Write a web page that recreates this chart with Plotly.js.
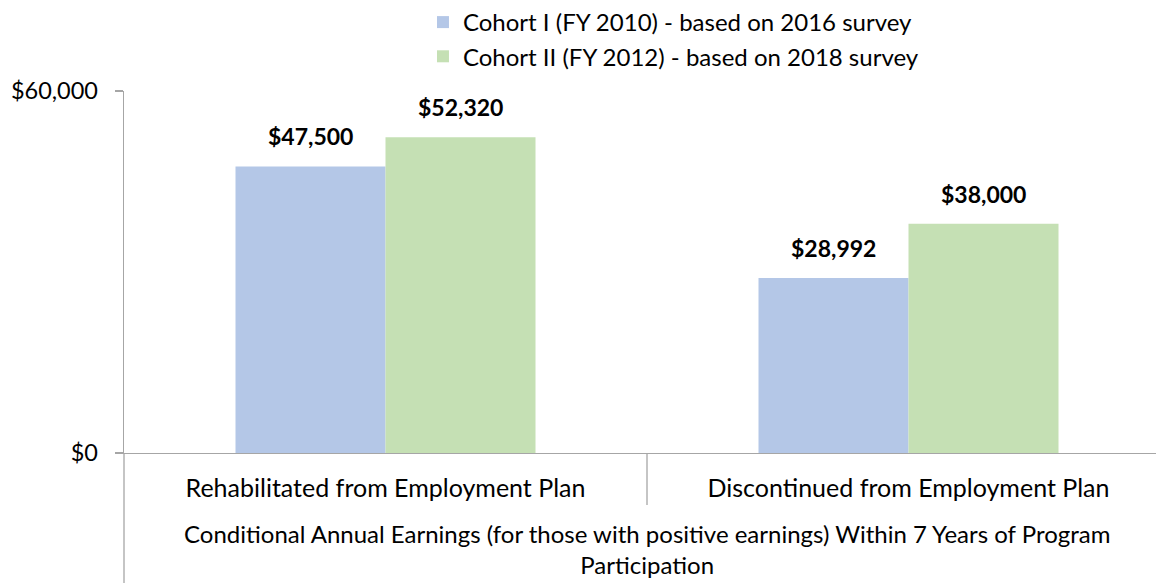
<!DOCTYPE html>
<html>
<head>
<meta charset="utf-8">
<script src="https://cdn.plot.ly/plotly-3.0.1.min.js"></script>
<style>html,body{margin:0;padding:0;background:#fff}#chart{width:1156px;height:583px}</style>
</head>
<body>
<div id="chart"></div>
<script>
const categories = ["Rehabilitated from Employment Plan", "Discontinued from Employment Plan"];
const seriesNames = ["Cohort I (FY 2010) - based on 2016 survey", "Cohort II (FY 2012) - based on 2018 survey"];
const cohort1 = [47500, 28992];
const cohort2 = [52320, 38000];
const groupTitleLines = ["Conditional Annual Earnings (for those with positive earnings) Within 7 Years of Program", "Participation"];
const yTicks = [0, 60000];
const yTickLabels = ["$0", "$60,000"];

const FONT = "Lato, 'Open Sans', sans-serif";
const colors = ["#B4C7E7", "#C5E0B4"];
const bargap = 0.4264;
const barW = (1 - bargap) / 2;

const fmt = v => "$" + v.toLocaleString("en-US");
const allSeries = [cohort1, cohort2];

const traces = allSeries.map((vals, j) => ({
  type: "bar",
  name: seriesNames[j],
  x: categories,
  y: vals,
  marker: {color: colors[j], line: {width: 0}},
  hoverinfo: "skip"
}));

const annotations = [];
allSeries.forEach((vals, j) => {
  vals.forEach((v, i) => {
    annotations.push({
      x: i + (j - 0.5) * barW, xref: "x",
      y: v, yref: "y",
      text: "<b>" + fmt(v) + "</b>",
      showarrow: false, yanchor: "bottom", yshift: 14,
      font: {family: FONT, size: 23, color: "#000"}
    });
  });
});
annotations.push({
  x: 0.5, xref: "x", y: -(581 - 453) / 362, yref: "paper", yanchor: "bottom",
  text: groupTitleLines.join("<br>"), showarrow: false, align: "center",
  font: {family: FONT, size: 24, color: "#000"}
});

const shapes = [
  {type: "line", xref: "paper", yref: "paper", x0: 0, x1: 0, y0: 0, y1: -130/362, line: {color: "#A6A6A6", width: 1.3}},
  {type: "line", xref: "x", yref: "paper", x0: 0.5, x1: 0.5, y0: 0, y1: -52/362, line: {color: "#A6A6A6", width: 1.3}}
];

const layout = {
  width: 1156, height: 583,
  margin: {l: 124, r: 0, t: 91, b: 130, autoexpand: false},
  paper_bgcolor: "#fff", plot_bgcolor: "#fff",
  barmode: "group", bargap: bargap, bargroupgap: 0,
  font: {family: FONT, color: "#000"},
  showlegend: true,
  legend: {x: 0.2897, y: 1 + 91/362, xanchor: "left", yanchor: "top", orientation: "v",
           font: {family: FONT, size: 24, color: "#000"}, bgcolor: "rgba(0,0,0,0)",
           tracegroupgap: 0, itemwidth: 30},
  xaxis: {type: "category", range: [-0.5, -0.5 + 1032/523], showline: true, linecolor: "#A6A6A6", linewidth: 1.3,
          ticks: "", showgrid: false, zeroline: false, ticklabelstandoff: 13,
          tickfont: {family: FONT, size: 25, color: "#000"}},
  yaxis: {range: [0, 60000], tickvals: yTicks, ticktext: yTickLabels,
          showline: true, linecolor: "#A6A6A6", linewidth: 1.3, ticks: "outside", ticklen: 8, tickcolor: "#A6A6A6",
          tickwidth: 1.3, showgrid: false, zeroline: false, ticklabelstandoff: 12,
          tickfont: {family: FONT, size: 23.5, color: "#000"}},
  annotations: annotations,
  shapes: shapes
};

Plotly.newPlot("chart", traces, layout, {displayModeBar: false, staticPlot: true});
</script>
</body>
</html>
